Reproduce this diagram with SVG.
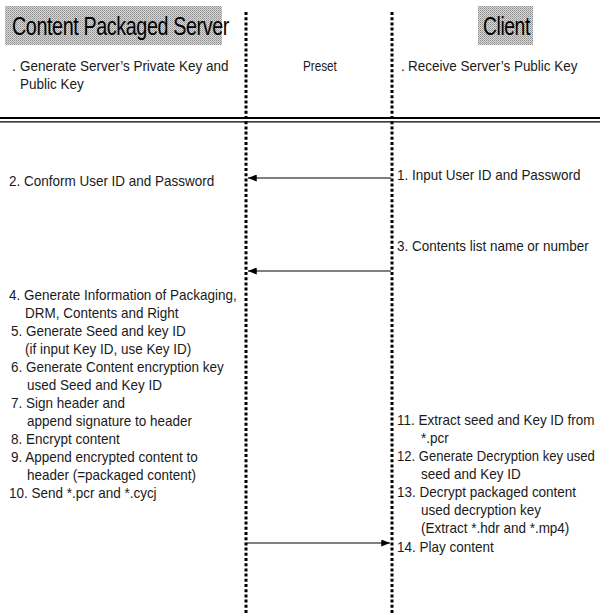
<svg xmlns="http://www.w3.org/2000/svg" width="600" height="615" viewBox="0 0 600 615">
  <defs>
    <!-- dithered grey fill for the lane titles -->
    <pattern id="dither" width="2" height="2" patternUnits="userSpaceOnUse">
      <rect width="2" height="2" fill="#d8d8d8"/>
      <rect width="1" height="1" fill="#8c8c8c"/>
      <rect x="1" y="1" width="1" height="1" fill="#a8a8a8"/>
    </pattern>
    <marker id="head" viewBox="0 0 10 8" refX="10" refY="4" markerWidth="9" markerHeight="7" markerUnits="userSpaceOnUse" orient="auto">
      <path d="M0,0 L10,4 L0,8 Z" fill="#000"/>
    </marker>
  </defs>
  <style>
    text { font-family: "Liberation Sans", Arial, sans-serif; fill: #1a1a1a; }
    .t { font-size: 15px; }
    .title { font-size: 25px; letter-spacing: -0.5px; fill: #000; }
    .lane { fill: none; stroke: #000; stroke-width: 3; stroke-dasharray: 3 2.2; }
    .msg { fill: none; stroke: #000; stroke-width: 1.2; marker-end: url(#head); }
  </style>
  <rect width="600" height="615" fill="#fff"/>

  <!-- lifelines -->
  <g id="lifelines">
    <line class="lane" x1="246" y1="12" x2="246" y2="615"/>
    <line class="lane" x1="392" y1="12" x2="392" y2="615"/>
  </g>

  <!-- server lane (text is set condensed: x scaled by 0.9) -->
  <g id="server">
    <rect x="5" y="6" width="217" height="39" fill="url(#dither)"/>
    <text class="title" transform="translate(12,35) scale(0.79,1)">Content Packaged Server</text>
    <g transform="scale(0.9,1)">
      <text class="t" x="13.33" y="71" fill="#777">.</text>
      <text class="t" x="22.22" y="71">Generate Server’s Private Key and</text>
      <text class="t" x="22.22" y="89">Public Key</text>
    </g>
  </g>

  <!-- preset column -->
  <g id="preset">
    <text class="t" transform="translate(303,71) scale(0.78,1)">Preset</text>
  </g>

  <!-- client lane -->
  <g id="client">
    <rect x="478" y="6" width="55" height="39" fill="url(#dither)"/>
    <text class="title" transform="translate(483,35) scale(0.77,1)">Client</text>
    <g transform="scale(0.9,1)">
      <text class="t" x="445.56" y="71" fill="#777">.</text>
      <text class="t" x="453.33" y="71">Receive Server’s Public Key</text>
    </g>
  </g>

  <!-- header separator -->
  <g id="separator">
    <line x1="0" y1="118" x2="600" y2="118" stroke="#000" stroke-width="2.2"/>
    <line x1="0" y1="121.8" x2="600" y2="121.8" stroke="#000" stroke-width="1.2"/>
  </g>

  <!-- server steps -->
  <g id="server-steps" transform="scale(0.9,1)">
    <text class="t" x="10" y="186">2. Conform User ID and Password</text>
    <text class="t" x="10" y="300">4. Generate Information of Packaging,</text>
    <text class="t" x="27.78" y="318">DRM, Contents and Right</text>
    <text class="t" x="12.22" y="336">5. Generate Seed and key ID</text>
    <text class="t" x="27.78" y="354">(if input Key ID, use Key ID)</text>
    <text class="t" x="12.22" y="372">6. Generate Content encryption key</text>
    <text class="t" x="30" y="390">used Seed and Key ID</text>
    <text class="t" x="12.22" y="408">7. Sign header and</text>
    <text class="t" x="30" y="426">append signature to header</text>
    <text class="t" x="12.22" y="444">8. Encrypt content</text>
    <text class="t" x="12.22" y="462">9. Append encrypted content to</text>
    <text class="t" x="30" y="480">header (=packaged content)</text>
    <text class="t" x="10" y="498">10. Send *.pcr and *.cycj</text>
  </g>

  <!-- client steps -->
  <g id="client-steps">
    <g transform="scale(0.9,1)">
      <text class="t" x="441.11" y="180">1. Input User ID and Password</text>
      <text class="t" x="441.11" y="251">3. Contents list name or number</text>
      <text class="t" x="441.11" y="425">11. Extract seed and Key ID from</text>
      <text class="t" x="467.78" y="443">*.pcr</text>
      <text class="t" x="467.78" y="479">seed and Key ID</text>
      <text class="t" x="441.11" y="497">13. Decrypt packaged content</text>
      <text class="t" x="467.78" y="515">used  decryption key</text>
      <text class="t" x="467.78" y="533">(Extract *.hdr and *.mp4)</text>
      <text class="t" x="441.11" y="552">14. Play content</text>
    </g>
    <text class="t" transform="translate(397,461) scale(0.87,1)">12. Generate Decryption key used</text>
  </g>

  <!-- messages -->
  <g id="connectors">
    <line class="msg" x1="391" y1="178" x2="248" y2="178"/>
    <line class="msg" x1="391" y1="271" x2="248" y2="271"/>
    <line class="msg" x1="247" y1="543" x2="390" y2="543"/>
  </g>
</svg>
